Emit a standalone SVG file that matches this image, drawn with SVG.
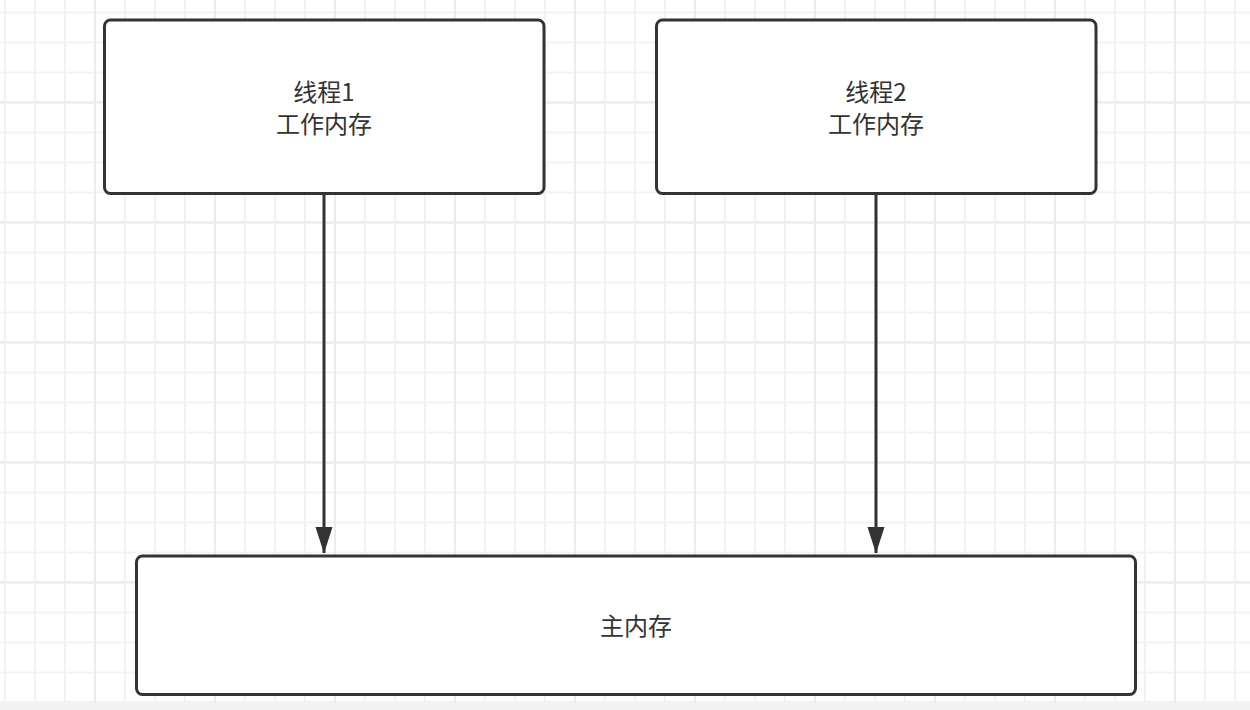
<svg xmlns="http://www.w3.org/2000/svg" width="1250" height="710" viewBox="0 0 1250 710">
<defs>
<style>
.node rect{fill:#ffffff;stroke:#333333;stroke-width:3;}
.node text{font-family:"Noto Sans CJK SC","Liberation Sans",sans-serif;font-size:24px;fill:#333333;text-anchor:middle;dominant-baseline:central;}
.edge{stroke:#333333;stroke-width:3;fill:none;}
.minor{stroke:#f2f2f2;stroke-width:2;}
.major{stroke:#ebebeb;stroke-width:2;}
</style>
<pattern id="gridMinor" x="4" y="11.5" width="30" height="30" patternUnits="userSpaceOnUse">
<path d="M1,0 V30 M0,1 H30" class="minor"/>
</pattern>
<pattern id="gridMajor" x="94" y="101.5" width="120" height="120" patternUnits="userSpaceOnUse">
<path d="M1,0 V120 M0,1 H120" class="major"/>
</pattern>
</defs>
<rect x="0" y="0" width="1250" height="710" fill="#ffffff"/>
<rect x="0" y="0" width="1250" height="702" fill="url(#gridMinor)"/>
<rect x="0" y="0" width="1250" height="702" fill="url(#gridMajor)"/>
<rect x="0" y="702" width="1250" height="8" fill="#f2f2f2"/>
<g id="connectors">
<path class="edge" d="M324,194 V553"/>
<path d="M315.5,527 L324,553.5 L332.5,527 Z" fill="#333333"/>
<path class="edge" d="M876,194 V553"/>
<path d="M867.5,527 L876,553.5 L884.5,527 Z" fill="#333333"/>
</g>
<g id="thread1" class="node">
<rect x="104.5" y="20" width="439.5" height="173.5" rx="6"/>
<text x="324" y="90">线程1</text>
<text x="324" y="122">工作内存</text>
</g>
<g id="thread2" class="node">
<rect x="656.5" y="20" width="439.5" height="173.5" rx="6"/>
<text x="876" y="90">线程2</text>
<text x="876" y="122">工作内存</text>
</g>
<g id="main-memory" class="node">
<rect x="136.5" y="556" width="999" height="138.5" rx="6"/>
<text x="636" y="624">主内存</text>
</g>
</svg>
